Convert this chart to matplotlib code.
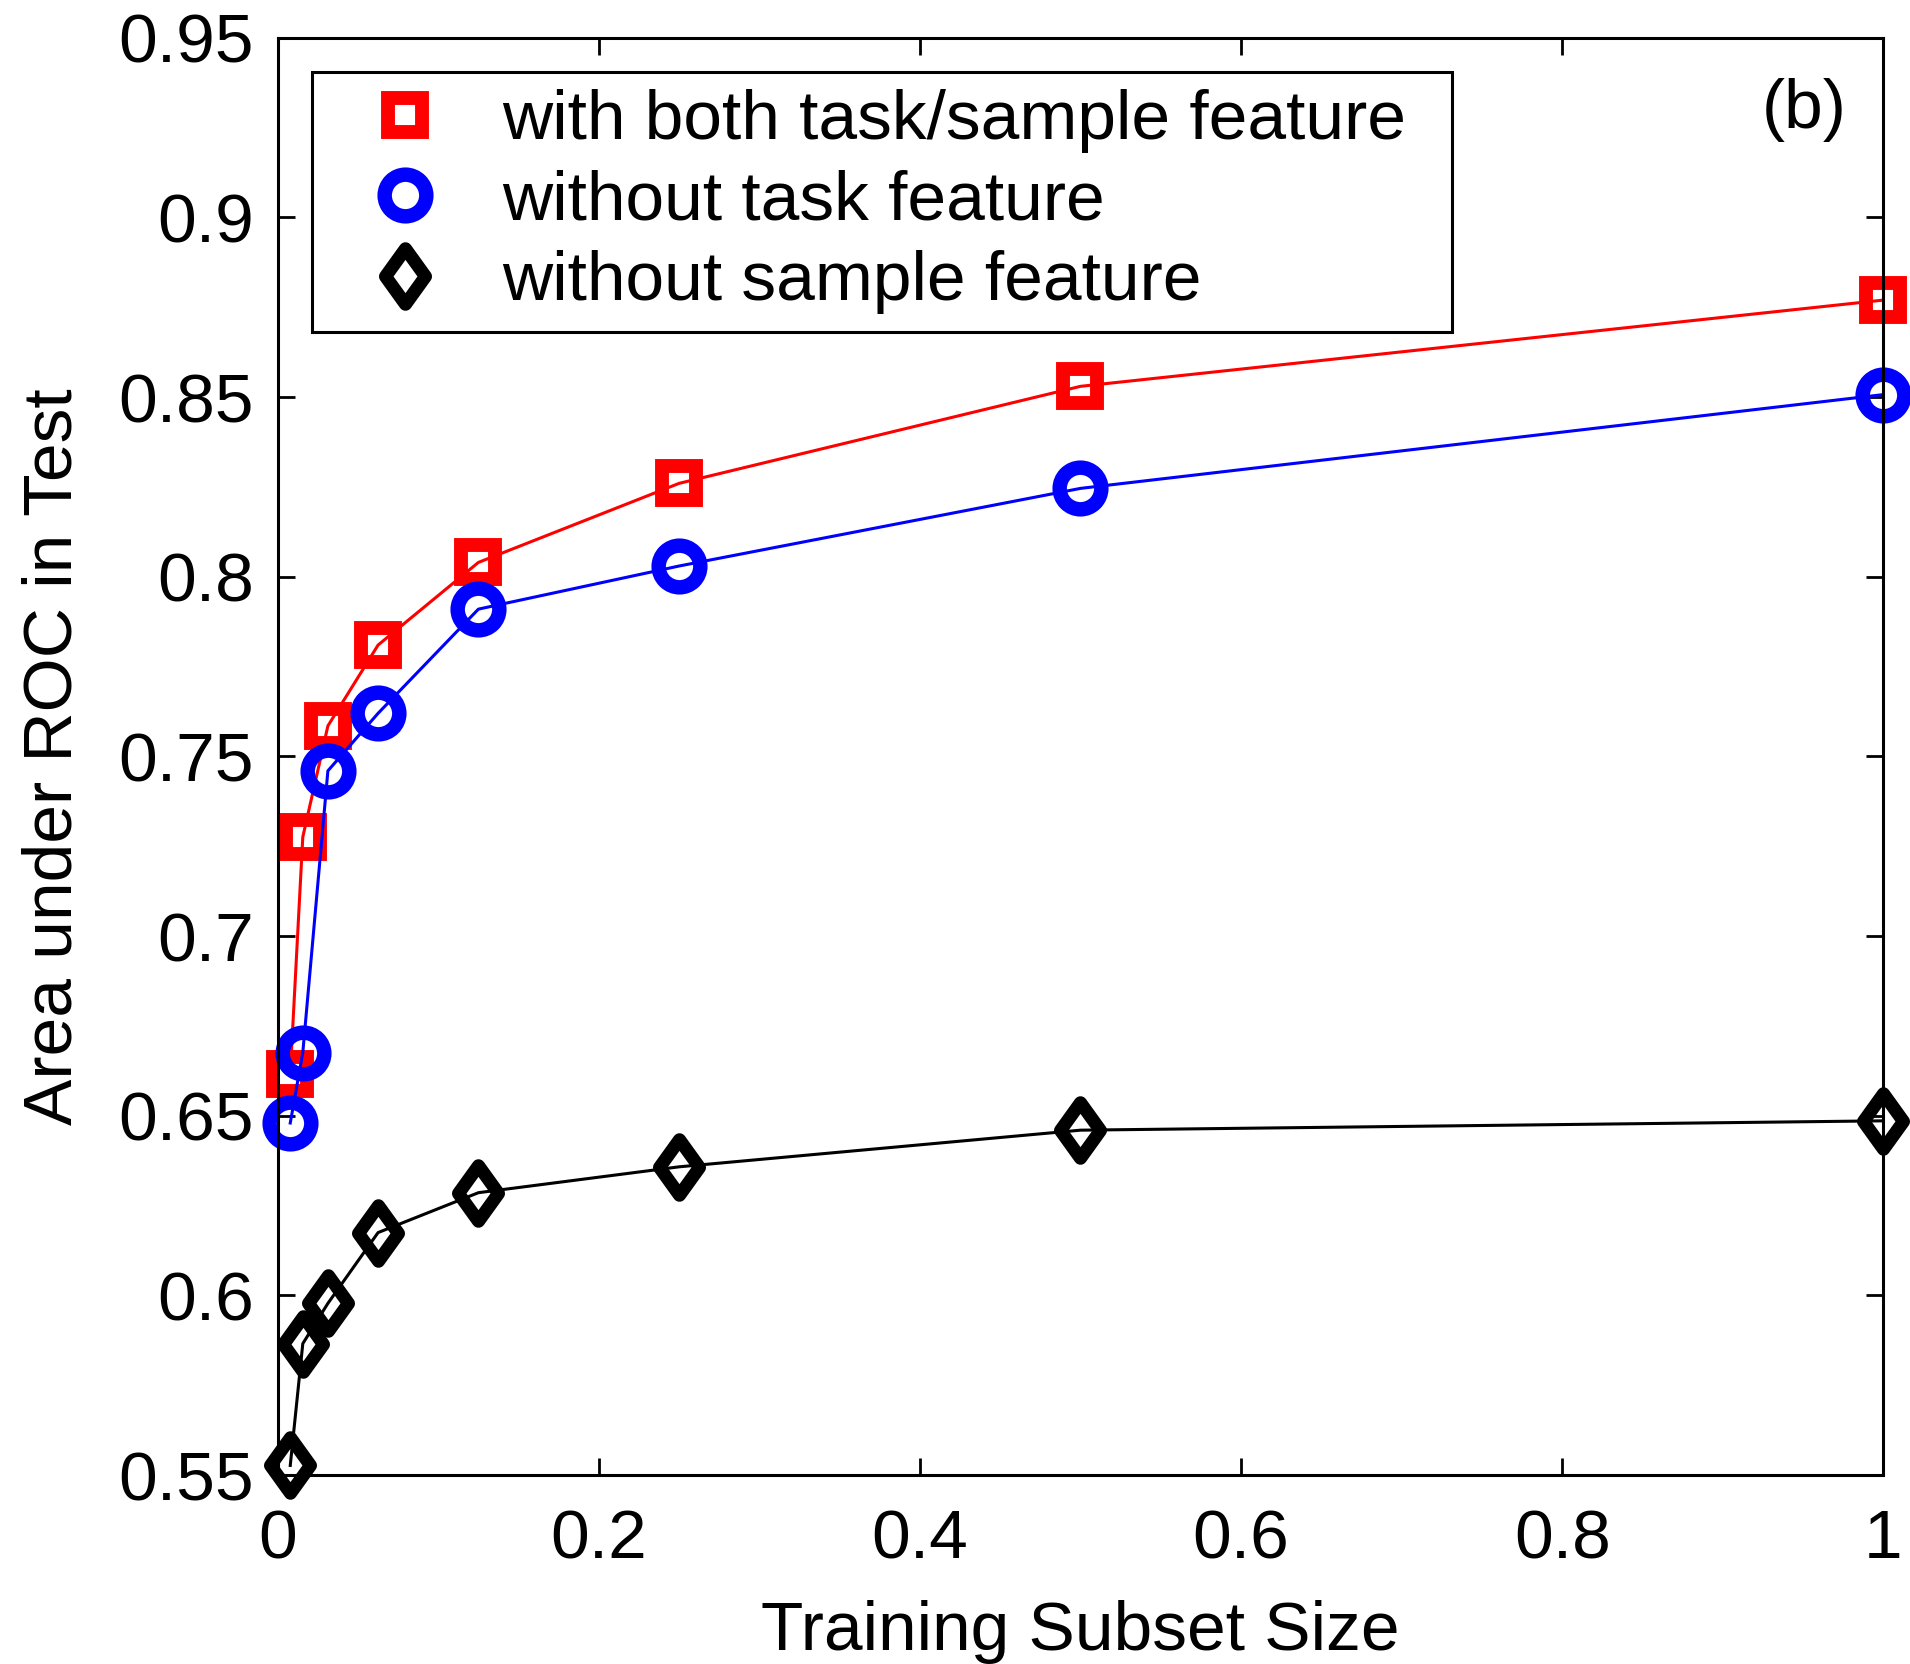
import matplotlib
matplotlib.use('Agg')
import matplotlib.pyplot as plt
from matplotlib.path import Path
from matplotlib.markers import MarkerStyle
from matplotlib.lines import Line2D

# ---- data ----
subset_size = [1/128, 1/64, 1/32, 1/16, 1/8, 1/4, 1/2, 1]
auc_both = [0.6615, 0.7276, 0.7585, 0.781, 0.804, 0.826, 0.853, 0.877]
auc_no_task = [0.648, 0.6676, 0.746, 0.762, 0.791, 0.803, 0.8246, 0.8507]
auc_no_sample = [0.5527, 0.5866, 0.5978, 0.6175, 0.6286, 0.6358, 0.646, 0.6486]
series_labels = ['with both task/sample feature',
                 'without task feature',
                 'without sample feature']
xticks = [0, 0.2, 0.4, 0.6, 0.8, 1]
xticklabels = ['0', '0.2', '0.4', '0.6', '0.8', '1']
yticks = [0.55, 0.6, 0.65, 0.7, 0.75, 0.8, 0.85, 0.9, 0.95]
yticklabels = ['0.55', '0.6', '0.65', '0.7', '0.75', '0.8', '0.85', '0.9', '0.95']

plt.rcParams['font.family'] = ['Liberation Sans', 'DejaVu Sans']
FS = 50

fig = plt.figure(figsize=(19.1, 16.64), dpi=100)
ax = fig.add_axes([0.1454, 0.1135, 0.986 - 0.1454, 0.9773 - 0.1135])

diamond_path = Path([(0, 0.5), (0.36, 0), (0, -0.5), (-0.36, 0), (0, 0.5)],
                    [Path.MOVETO, Path.LINETO, Path.LINETO, Path.LINETO, Path.CLOSEPOLY])
diamond = MarkerStyle(diamond_path, joinstyle='miter')

styles = [
    dict(color='red', marker='s', markersize=24.5, markeredgewidth=10),
    dict(color='blue', marker='o', markersize=30, markeredgewidth=10.4),
    dict(color='black', marker=diamond, markersize=40, markeredgewidth=9.4),
]
data = [auc_both, auc_no_task, auc_no_sample]

handles = []
for y, st, lab in zip(data, styles, series_labels):
    ax.plot(subset_size, y, linewidth=2.2, markerfacecolor='none',
            clip_on=False, **st)
    handles.append(Line2D([], [], linestyle='none', markerfacecolor='none', **st))

ax.set_xlim(0, 1)
ax.set_ylim(0.55, 0.95)
ax.set_xticks(xticks)
ax.set_xticklabels(xticklabels)
ax.set_yticks(yticks)
ax.set_yticklabels(yticklabels)
ax.tick_params(direction='in', length=12, width=2, top=True, right=True,
               labelsize=FS)
ax.tick_params(axis='x', pad=24)
ax.tick_params(axis='y', pad=17)
for s in ax.spines.values():
    s.set_linewidth(2.2)

fig.text(0.5 * (0.1454 + 0.986), 14 / 1664, 'Training Subset Size',
         ha='center', va='baseline', fontsize=FS)
fig.text(54 / 1910, 0.5 * (0.1135 + 0.9773), 'Area under ROC in Test',
         ha='center', va='center', rotation=90, fontsize=FS)

ax.text(0.951, 0.950, '(b)', transform=ax.transAxes, ha='center', va='center',
        fontsize=FS)

# legend box: left 311.5px, right 1451.5px, top 71.7px (full figure pixels)
ax_l, ax_w = 277.7, 1605.0
ax_t, ax_h = 37.8, 1437.4
bx0 = (311.5 - ax_l) / ax_w
bw = (1451.5 - 311.5) / ax_w
by1 = 1 - (71.7 - ax_t) / ax_h
leg = ax.legend(handles, series_labels, loc='upper left',
                bbox_to_anchor=(bx0, by1 - 0.2, bw, 0.2), mode='expand',
                borderaxespad=0, borderpad=0.25, handlelength=2.18,
                handletextpad=0.31, labelspacing=0.24, fontsize=FS,
                fancybox=False, edgecolor='black', framealpha=1)
leg.get_frame().set_linewidth(2.2)

fig.savefig('out.png', dpi=100)
